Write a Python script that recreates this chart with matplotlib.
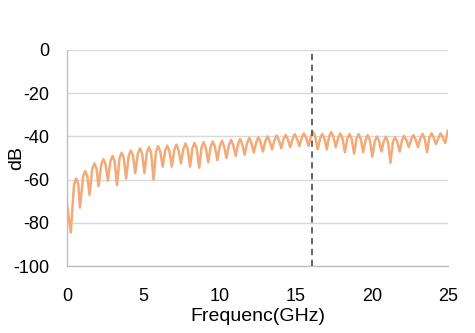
import matplotlib

matplotlib.use("Agg")
import matplotlib.pyplot as plt

# frequency (GHz) and magnitude (dB):
# each ripple as notch, shoulder, peak, shoulder
freq = [0.00, 0.25, 0.46, 0.60, 0.74, 0.85, 1.06, 1.20, 1.34, 1.48, 1.66, 1.80, 1.94, 2.07,
        2.25, 2.39, 2.53, 2.68, 2.85, 2.99, 3.13, 3.28, 3.45, 3.59, 3.73, 3.88, 4.05, 4.19,
        4.33, 4.48, 4.65, 4.79, 4.93, 5.08, 5.24, 5.38, 5.52, 5.68, 5.84, 5.98, 6.12, 6.28,
        6.44, 6.58, 6.72, 6.88, 7.04, 7.18, 7.32, 7.48, 7.64, 7.78, 7.92, 8.08, 8.23, 8.37,
        8.51, 8.68, 8.83, 8.97, 9.11, 9.27, 9.43, 9.57, 9.71, 9.87, 10.03, 10.17, 10.31, 10.47,
        10.63, 10.77, 10.91, 11.07, 11.22, 11.36, 11.50, 11.66, 11.82, 11.96, 12.10, 12.26,
        12.42, 12.56, 12.70, 12.86, 13.02, 13.16, 13.30, 13.46, 13.62, 13.76, 13.90, 14.06,
        14.21, 14.35, 14.49, 14.65, 14.81, 14.95, 15.09, 15.25, 15.41, 15.55, 15.69, 15.85,
        16.01, 16.15, 16.29, 16.45, 16.61, 16.75, 16.89, 17.05, 17.20, 17.34, 17.48, 17.64,
        17.80, 17.94, 18.08, 18.24, 18.40, 18.54, 18.68, 18.84, 19.00, 19.14, 19.28, 19.44,
        19.60, 19.74, 19.88, 20.04, 20.20, 20.34, 20.48, 20.64, 20.79, 20.93, 21.07, 21.23,
        21.39, 21.53, 21.67, 21.83, 21.99, 22.13, 22.27, 22.43, 22.59, 22.73, 22.87, 23.03,
        23.19, 23.33, 23.47, 23.63, 23.78, 23.92, 24.06, 24.22, 24.38, 24.52, 24.66, 24.82,
        25.00]
mag_db = [-71.5, -84.5, -62.5, -59.5, -62.0, -73.0, -58.5, -56.0, -58.5, -67.0, -55.0, -52.5,
          -55.0, -63.0, -53.0, -50.5, -53.0, -60.5, -51.5, -49.0, -51.5, -62.5, -50.0, -47.5,
          -50.0, -59.5, -49.0, -46.5, -49.0, -57.0, -48.0, -45.5, -48.0, -57.0, -47.5, -45.0,
          -47.5, -60.0, -47.0, -44.5, -47.0, -54.0, -46.7, -44.2, -46.7, -54.0, -46.3, -43.8,
          -46.3, -52.5, -45.8, -43.3, -45.8, -54.0, -45.5, -43.0, -45.5, -54.5, -45.2, -42.7,
          -45.2, -52.0, -44.8, -42.3, -44.8, -51.0, -44.5, -42.0, -44.5, -50.0, -44.0, -41.6,
          -44.0, -49.0, -43.6, -41.2, -43.6, -48.5, -43.0, -40.8, -43.0, -47.5, -42.7, -40.5,
          -42.7, -47.0, -42.2, -40.0, -42.2, -46.0, -41.6, -39.6, -41.6, -45.5, -41.3, -39.3,
          -41.3, -45.0, -41.0, -39.0, -41.0, -44.5, -40.6, -38.6, -40.6, -44.4, -40.0, -38.0,
          -40.0, -46.0, -41.0, -38.9, -41.0, -46.0, -40.0, -38.0, -40.0, -45.0, -40.6, -38.6,
          -40.8, -47.3, -41.0, -38.9, -41.0, -48.0, -41.0, -38.9, -41.2, -47.3, -41.5, -39.4,
          -41.8, -49.4, -42.2, -40.1, -42.2, -47.0, -42.2, -40.1, -42.6, -52.2, -42.5, -40.4,
          -42.4, -47.0, -41.8, -39.8, -41.6, -45.0, -41.4, -39.4, -41.2, -45.0, -41.0, -38.9,
          -41.0, -47.3, -40.6, -38.6, -40.5, -43.6, -40.6, -38.6, -40.4, -43.0, -37.3]
marker_freq = 16.05
x_ticks = [0, 5, 10, 15, 20, 25]
y_ticks = [0, -20, -40, -60, -80, -100]

plt.rcParams["font.family"] = ["Liberation Sans", "DejaVu Sans"]
plt.rcParams["axes.unicode_minus"] = False

fig = plt.figure(figsize=(4.75, 3.33), dpi=100)
ax = fig.add_axes([0.141, 0.201, 0.802, 0.649])

ax.plot(freq, mag_db, color="#F4AA78", linewidth=1.8, solid_joinstyle="round", zorder=3)
ax.axvline(marker_freq, color="#595959", linewidth=1.3, linestyle=(0, (3.5, 2.5)), zorder=4)

ax.set_xlim(0, 25)
ax.set_ylim(-100, 0)
ax.set_xticks(x_ticks)
ax.set_yticks(y_ticks)
ax.yaxis.grid(True, color="#D9D9D9", linewidth=1.0)
ax.set_axisbelow(True)

for side in ("top", "right"):
    ax.spines[side].set_visible(False)
for side in ("left", "bottom"):
    ax.spines[side].set_color("#BFBFBF")
    ax.spines[side].set_linewidth(1.0)

ax.tick_params(axis="both", length=0, labelsize=13, colors="black")
ax.tick_params(axis="x", pad=16)
ax.tick_params(axis="y", pad=13)

ax.set_xlabel("Frequenc(GHz)", fontsize=14, labelpad=2)
ax.set_ylabel("dB", fontsize=14)
ax.yaxis.set_label_coords(-0.11, 0.5)

fig.savefig("out.png", dpi=100)
plt.close(fig)
